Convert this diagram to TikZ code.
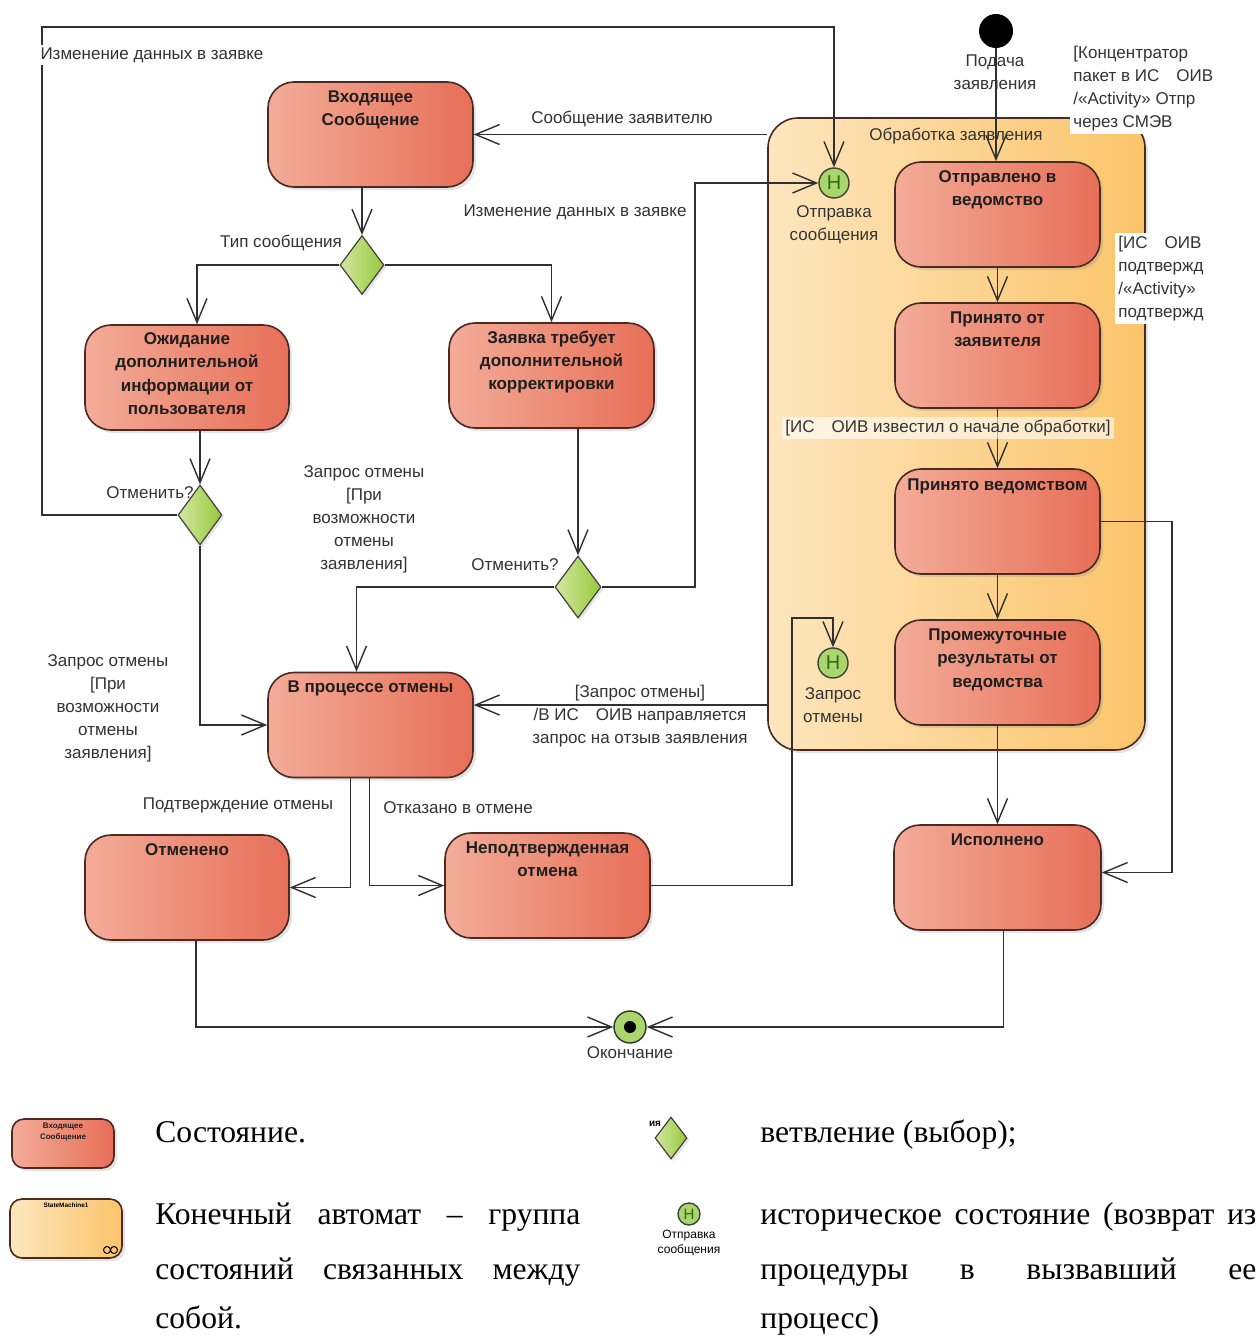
\documentclass[tikz,border=0pt]{standalone}
\usepackage{fontspec}
\setmainfont{Liberation Serif}
\newfontfamily\diagf{Liberation Sans}
\usetikzlibrary{arrows.meta,shapes.geometric,shadows,calc}
\definecolor{stL}{HTML}{F3AC98}
\definecolor{stR}{HTML}{E76F58}
\definecolor{smL}{HTML}{FDE6BE}
\definecolor{smR}{HTML}{FBC46A}
\definecolor{dmL}{HTML}{D3E8A0}
\definecolor{dmR}{HTML}{96C83C}
\definecolor{hgr}{HTML}{A8D56C}
\definecolor{hdk}{HTML}{2E6B12}
\definecolor{ln}{HTML}{303030}
\definecolor{bd}{HTML}{4A2A22}
\begin{document}
\begin{tikzpicture}[x=0.5pt,y=-0.5pt,
  >={Straight Barb[length=12pt,width=10pt]},
  stbox/.style={draw=bd,line width=0.8pt,rounded corners=13pt,left color=stL,right color=stR,
     minimum width=102.5pt,minimum height=52.5pt,inner sep=0pt,
     drop shadow={shadow xshift=1.5pt,shadow yshift=-1.5pt,opacity=0.22}},
  smbox/.style={draw=bd,line width=0.8pt,rounded corners=15pt,left color=smL,right color=smR,
     inner sep=0pt,drop shadow={shadow xshift=1.5pt,shadow yshift=-1.5pt,opacity=0.22}},
  sttext/.style={anchor=north,align=center,inner sep=0pt,text=black!88,
     font=\diagf\bfseries\fontsize{8.5}{11.7}\selectfont},
  lbl/.style={align=center,inner sep=1.5pt,text=black!80,font=\diagf\fontsize{8.5}{11.5}\selectfont},
  dmd/.style={diamond,draw=black!75,line width=0.6pt,left color=dmL,right color=dmR,inner sep=0pt,
     drop shadow={shadow xshift=1.2pt,shadow yshift=-1.2pt,opacity=0.2}},
  hist/.style={circle,draw=black!75,line width=0.7pt,fill=hgr,minimum size=15pt,inner sep=0pt,
     text=hdk,font=\diagf\fontsize{10}{10}\selectfont},
  conn/.style={draw=ln,line width=0.7pt,->},
  bigtxt/.style={anchor=base west,inner sep=0pt,font=\fontsize{15.8}{18}\selectfont},
]
\useasboundingbox (0,0) rectangle (1259,1339);
\fill[white] (0,0) rectangle (1259,1339);

% container
\node[smbox,minimum width=188.5pt,minimum height=316pt] (cont) at (956.5,434) {};

% states
\node[stbox] (inc) at (370.5,134.5) {};
\node[stbox,minimum width=102pt] (wait) at (187,377.5) {};
\node[stbox] (corr) at (551.5,375.5) {};
\node[stbox] (sent) at (997.5,214.5) {};
\node[stbox] (accA) at (997.5,355.5) {};
\node[stbox] (accB) at (997.5,521.5) {};
\node[stbox] (inter) at (997.5,672.5) {};
\node[stbox] (proc) at (370.5,725) {};
\node[stbox,minimum width=102pt] (canc) at (187,887.5) {};
\node[stbox] (unc) at (547.5,885.5) {};
\node[stbox,minimum width=103.5pt] (done) at (997.5,877.5) {};

\node[sttext] (incT) at ($(inc.north)+(0,9)$) {Входящее\\Сообщение};
\node[sttext] (waitT) at ($(wait.north)+(0,8)$) {Ожидание\\дополнительной\\информации от\\пользователя};
\node[sttext] (corrT) at ($(corr.north)+(0,8)$) {Заявка требует\\дополнительной\\корректировки};
\node[sttext] (sentT) at ($(sent.north)+(0,9)$) {Отправлено в\\ведомство};
\node[sttext] (accAT) at ($(accA.north)+(0,9)$) {Принято от\\заявителя};
\node[sttext] (accBT) at ($(accB.north)+(0,10)$) {Принято ведомством};
\node[sttext] (interT) at ($(inter.north)+(0,9)$) {Промежуточные\\результаты от\\ведомства};
\node[sttext] (procT) at ($(proc.north)+(0,9)$) {В процессе отмены};
\node[sttext] (cancT) at ($(canc.north)+(0,9)$) {Отменено};
\node[sttext] (uncT) at ($(unc.north)+(0,9)$) {Неподтвержденная\\отмена};
\node[sttext] (doneT) at ($(done.north)+(0,9)$) {Исполнено};

% pseudo states
\node[dmd,minimum width=22pt,minimum height=29.5pt] (d0) at (362,265) {};
\node[dmd,minimum width=22pt,minimum height=30pt] (d1) at (200,515) {};
\node[dmd,minimum width=23pt,minimum height=31pt] (d2) at (578,587) {};
\node[hist] (h1) at (834,183) {H};
\node[hist] (h2) at (833,663) {H};
\node[circle,fill=black,minimum size=17pt,inner sep=0pt] (init) at (996,31) {};
\node[circle,draw=black!80,fill=hgr,minimum size=16pt,inner sep=0pt,line width=0.7pt] (fin) at (630,1027) {};
\node[circle,fill=black,minimum size=6pt,inner sep=0pt] (finc) at (fin) {};

% helper coordinates
\coordinate (wt) at ($(wait.north)+(10,0)$);
\coordinate (pt) at ($(proc.north)+(-14,0)$);
\coordinate (tl) at (42,27);
\coordinate (bx) at (695,400);
\coordinate (y705) at (0,705);
\coordinate (c792) at (792,618);
\coordinate (rx) at (1172,700);

% connectors
\draw[conn] (init) -- (init |- sent.north);
\draw[conn] (cont.west |- inc.east) -- (inc.east);
\draw[conn] (d0.north |- inc.south) -- (d0.north);
\draw[conn] (d0.west) -| (wt);
\draw[conn] (d0.east) -| (corr.north);
\draw[conn] (d1.north |- wait.south) -- (d1.north);
\draw[conn] (d2.north |- corr.south) -- (d2.north);
\draw[conn] (d1.west) -| (tl) -| (h1.north);
\draw[conn] (d1.south) |- (proc.west);
\draw[conn] (d2.west) -| (pt);
\draw[conn] (d2.east) -| (bx) |- (h1.west);
\draw[conn] (cont.west |- y705) -- (proc.east |- y705);
\draw[conn] ($(proc.south)+(-20,0)$) |- (canc.east);
\draw[conn] ($(proc.south)+(-1,0)$) |- (unc.west);
\draw[conn] (unc.east) -| (c792) -- (h2.north |- c792) -- (h2.north);
\draw[conn] (sent.south) -- (accA.north);
\draw[conn] (accA.south) -- (accB.north);
\draw[conn] (accB.south) -- (inter.north);
\draw[conn] (inter.south) -- (done.north);
\draw[conn] (accB.east) -| (rx) |- ($(done.east)+(0,-5)$);
\draw[conn] ($(canc.south)+(9,0)$) |- (fin.west);
\draw[conn] ($(done.south)+(6,0)$) |- (fin.east);

% labels
\node[lbl,fill=white,inner sep=1pt] (lchg1) at (152,55) {Изменение данных в заявке};
\node[lbl] (lmsg) at (622,119) {Сообщение заявителю};
\node[lbl] (ltype) at (281,243) {Тип сообщения};
\node[lbl] (lchg2) at (575,212) {Изменение данных в заявке};
\node[lbl] (lq1) at (150,493) {Отменить?};
\node[lbl] (lq2) at (515,565) {Отменить?};
\node[lbl] (lreq1) at (108,708) {Запрос отмены\\{[}При\\возможности\\отмены\\заявления]};
\node[lbl] (lreq2) at (364,519) {Запрос отмены\\{[}При\\возможности\\отмены\\заявления]};
\node[lbl] (lconf) at (238,805) {Подтверждение отмены};
\node[lbl] (lrej) at (458,808) {Отказано в отмене};
\node[lbl,fill=white,inner sep=0.5pt] (lzr) at (640,693) {[Запрос отмены]};
\node[lbl] (lzr2) at (640,728) {/В ИС\hspace{1em}ОИВ направляется\\запрос на отзыв заявления};
\node[lbl] (lsub) at (995,72) {Подача\\заявления};
\node[lbl] (lh1) at (834,225) {Отправка\\сообщения};
\node[lbl] (lh2) at (833,705) {Запрос\\отмены};
\node[lbl] (lfin) at (630,1053) {Окончание};
\node[lbl] (ltitle) at (956,136) {Обработка заявления};
\node[lbl,fill=white,fill opacity=0.6,text opacity=1] (lnot) at (948,428) {[ИС\hspace{1em}ОИВ известил о начале обработки]};
\node[lbl,fill=white,align=left,anchor=north west] (lconc) at (1070,43) {[Концентратор\\пакет в ИС\hspace{1em}ОИВ\\/«Activity» Отпр\\через СМЭВ};
\node[lbl,fill=white,align=left,anchor=north west] (lconf2) at (1115,233) {[ИС\hspace{1em}ОИВ\\подтвержд\\/«Activity»\\подтвержд};

% legend
\node[stbox,minimum width=51pt,minimum height=24.5pt,rounded corners=6pt] (lgst) at (63,1143.5) {};
\node[sttext,font=\diagf\bfseries\fontsize{4}{5.5}\selectfont] (lgstT) at ($(lgst.north)+(0,4)$) {Входящее\\Сообщение};
\node[smbox,minimum width=56pt,minimum height=29.5pt,rounded corners=6pt] (lgsm) at (66,1228.5) {};
\node[inner sep=0pt,font=\diagf\bfseries\fontsize{3.2}{3.5}\selectfont] (lgsmT) at (66,1205) {StateMachine1};
\node[circle,draw=black,line width=0.5pt,minimum size=3.5pt,inner sep=0pt] (inf1) at (107,1250) {};
\node[circle,draw=black,line width=0.5pt,minimum size=3.5pt,inner sep=0pt] (inf2) at (114,1250) {};
\node[dmd,minimum width=16pt,minimum height=21pt] (lgd) at (671,1138) {};
\node[inner sep=0pt,font=\diagf\bfseries\fontsize{5}{5}\selectfont] (lgdT) at (655,1124) {ия};
\node[hist,minimum size=11pt,font=\diagf\fontsize{7.5}{7.5}\selectfont] (lgh) at (689,1214) {H};
\node[align=center,inner sep=0pt,font=\diagf\fontsize{6}{7.5}\selectfont] (lghT) at (689,1243) {Отправка\\сообщения};

\node[bigtxt] (t1) at (155,1142) {Состояние.};
\node[bigtxt] (t2) at (155,1224) {\makebox[212.5pt][s]{Конечный автомат – группа}};
\node[bigtxt] (t3) at (155,1279) {\makebox[212.5pt][s]{состояний связанных между}};
\node[bigtxt] (t4) at (155,1328) {собой.};
\node[bigtxt] (t5) at (760,1142) {ветвление (выбор);};
\node[bigtxt] (t6) at (760,1224) {\makebox[248pt][s]{историческое состояние (возврат из}};
\node[bigtxt] (t7) at (760,1279) {\makebox[248pt][s]{процедуры в вызвавший ее}};
\node[bigtxt] (t8) at (760,1328) {процесс)};
\end{tikzpicture}
\end{document}
